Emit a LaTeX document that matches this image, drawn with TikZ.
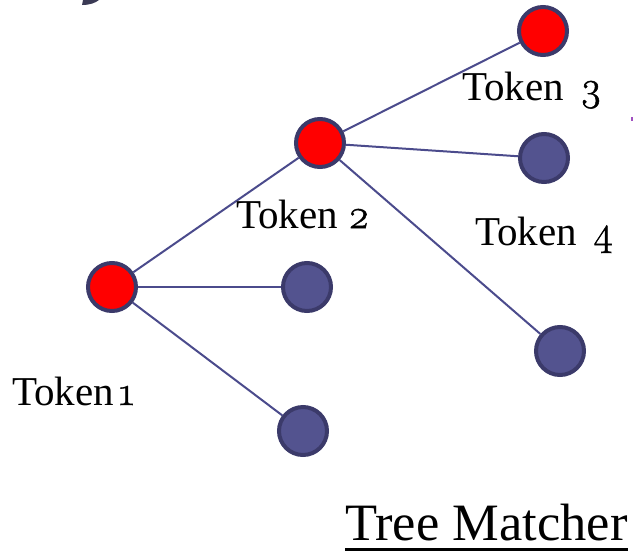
\documentclass[tikz,border=0pt]{standalone}
\usepackage{fontspec}
\setmainfont{Liberation Serif}
% old-style figures, slightly emboldened to sit with the text face
\newfontfamily\osfigs[Numbers=OldStyle,FakeBold=1.2]{Latin Modern Roman}
\newcommand\osdigit[1]{{\osfigs #1}}
\begin{document}
\begin{tikzpicture}[x=1pt,y=-1pt,
  edge/.style={draw=edgeblue,line width=2pt},
  tok/.style={circle,inner sep=0pt,minimum size=48pt,line width=4pt,draw=rimblue},
  hit/.style={tok,fill=red},
  miss/.style={tok,fill=nodeblue},
  lbl/.style={anchor=base west,inner sep=0pt,font=\fontsize{41}{44}\selectfont},
]
\definecolor{edgeblue}{HTML}{4B4B8C}
\definecolor{rimblue}{HTML}{3B3A6A}
\definecolor{nodeblue}{HTML}{53538F}
\definecolor{blobdark}{HTML}{3B3A55}
\definecolor{speck}{HTML}{A050C0}
\useasboundingbox (0,0) rectangle (634,552);

% nodes of the tree
\node[hit]  (t1) at (112,287) {};
\node[miss] (b1) at (307,287) {};
\node[miss] (b2) at (303,431) {};
\node[hit]  (t2) at (320,143) {};
\node[hit]  (t3) at (543,31)  {};
\node[miss] (b3) at (544,158) {};
\node[miss] (b4) at (560,351) {};

% branches between node borders
\path[edge] (t1) -- (b1);
\path[edge] (t1) -- (b2);
\path[edge] (t1) -- (t2);
\path[edge] (t2) -- (t3);
\path[edge] (t2) -- (b3);
\path[edge] (t2) -- (b4);

% labels
\node[lbl] (l1) at (12,405)  {Token\hspace{5pt}\osdigit{1}};
\node[lbl] (l2) at (236,228) {Token\hspace{10pt}\osdigit{2}};
\node[lbl] (l3) at (462,100) {Token\hspace{16pt}\osdigit{3}};
\node[lbl] (l4) at (475,245) {Token\hspace{16pt}\osdigit{4}};

% title
\node[anchor=base west,inner sep=0pt,font=\fontsize{52.5}{56}\selectfont]
  (title) at (345,540) {Tree Matcher};
\fill (title.west |- 0,548) rectangle (title.east |- 0,551);

% stray marks at the edges
\fill[blobdark] (82,5) -- (83,0) -- (99,0) .. controls (95,3) and (90,5) .. (82,5);
\fill[speck] (631,117) rectangle (633,121);
\end{tikzpicture}
\end{document}
